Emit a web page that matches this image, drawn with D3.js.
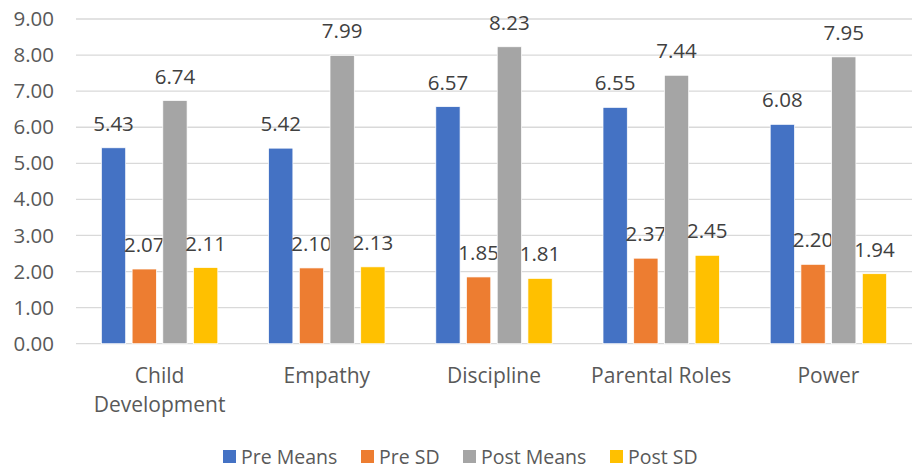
<!DOCTYPE html>
<html>
<head>
<meta charset="utf-8">
<script src="https://cdn.jsdelivr.net/npm/d3@7/dist/d3.min.js"></script>
<style>
  html, body { margin: 0; padding: 0; background: #fff; }
  svg { display: block; font-family: "Open Sans", Lato, sans-serif; }
</style>
</head>
<body>
<svg id="chart" width="917" height="469"></svg>
<script>
// Scale categories and the four measured series
const categories = ["Child Development", "Empathy", "Discipline", "Parental Roles", "Power"];
const categoryLines = [["Child", "Development"], ["Empathy"], ["Discipline"], ["Parental Roles"], ["Power"]];
const seriesNames = ["Pre Means", "Pre SD", "Post Means", "Post SD"];
const preMeans = [5.43, 5.42, 6.57, 6.55, 6.08];
const preSD = [2.07, 2.10, 1.85, 2.37, 2.20];
const postMeans = [6.74, 7.99, 8.23, 7.44, 7.95];
const postSD = [2.11, 2.13, 1.81, 2.45, 1.94];
const yTicks = [0, 1, 2, 3, 4, 5, 6, 7, 8, 9];
const colors = ["#4472C4", "#ED7D31", "#A5A5A5", "#FFC000"];

const seriesValues = [preMeans, preSD, postMeans, postSD];

const svg = d3.select("#chart");
const plot = { left: 76, right: 912, top: 19, bottom: 343.7 };

const x = d3.scaleBand().domain(categories).range([plot.left, plot.right]).paddingInner(0).paddingOuter(0);
const y = d3.scaleLinear().domain([0, 9]).range([plot.bottom, plot.top]);
const groupWidth = x.bandwidth() * 0.696;
const xs = d3.scaleBand().domain(seriesNames).range([0, groupWidth]).paddingInner(0.21).paddingOuter(0);

// Horizontal gridlines
svg.append("g")
  .selectAll("line")
  .data(yTicks)
  .join("line")
  .attr("x1", plot.left).attr("x2", plot.right)
  .attr("y1", d => y(d)).attr("y2", d => y(d))
  .attr("stroke", "#D9D9D9").attr("stroke-width", 1.3);

// Y axis labels
const yAxis = d3.axisLeft(y).tickValues(yTicks).tickFormat(d3.format(".2f")).tickSize(0).tickPadding(0);
const yg = svg.append("g").attr("transform", `translate(${plot.left - 22},0)`).call(yAxis);
yg.select(".domain").remove();
yg.selectAll("text")
  .attr("fill", "#595959").attr("font-size", 20.5).attr("font-family", "'Open Sans', sans-serif");

// Bars and value labels
const groups = svg.append("g")
  .selectAll("g")
  .data(categories)
  .join("g")
  .attr("transform", d => `translate(${x(d) + (x.bandwidth() - groupWidth) / 2},0)`);

groups.each(function(cat, ci) {
  const g = d3.select(this);
  seriesNames.forEach((s, si) => {
    const v = seriesValues[si][ci];
    g.append("rect")
      .attr("x", xs(s))
      .attr("y", y(v))
      .attr("width", xs.bandwidth())
      .attr("height", y(0) - y(v))
      .attr("fill", colors[si])
      .attr("stroke", "#fff").attr("stroke-width", 0.7);
    g.append("text")
      .attr("x", xs(s) + xs.bandwidth() / 2)
      .attr("y", y(v) - 17)
      .attr("text-anchor", "middle")
      .attr("fill", "#404040")
      .attr("font-size", 20.5)
      .text(d3.format(".2f")(v));
  });
});

// Category labels
const cg = svg.append("g")
  .selectAll("text")
  .data(categories)
  .join("text")
  .attr("x", d => x(d) + x.bandwidth() / 2)
  .attr("y", 383)
  .attr("text-anchor", "middle")
  .attr("fill", "#595959")
  .attr("font-size", 21);
cg.each(function(d, i) {
  d3.select(this).selectAll("tspan")
    .data(categoryLines[i])
    .join("tspan")
    .attr("x", x(d) + x.bandwidth() / 2)
    .attr("dy", (t, j) => j === 0 ? 0 : 29)
    .text(t => t);
});

// Legend
const legendX = [223, 361, 463, 610];
const legend = svg.append("g")
  .selectAll("g")
  .data(seriesNames)
  .join("g")
  .attr("transform", (d, i) => `translate(${legendX[i]},450)`);
legend.append("rect").attr("width", 13).attr("height", 13).attr("fill", (d, i) => colors[i]);
legend.append("text")
  .attr("x", 18).attr("y", 13.5)
  .attr("fill", "#595959").attr("font-size", 19.5)
  .text(d => d);
</script>
</body>
</html>
